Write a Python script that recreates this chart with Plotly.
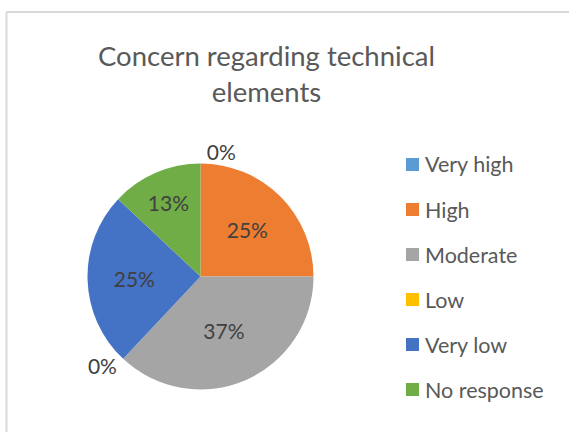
import plotly.graph_objects as go

# Survey responses: concern regarding technical elements (percent of respondents)
categories = ["Very high", "High", "Moderate", "Low", "Very low", "No response"]
shares = [0, 25, 37, 0, 25, 13]
colors = ["#5B9BD5", "#ED7D31", "#A5A5A5", "#FFC000", "#4472C4", "#70AD47"]

W, H = 569, 432
FONT = "Lato, 'Open Sans', sans-serif"

# pie placement in pixels (converted to paper fractions)
cx, cy, r = 200.5, 276.5, 113

text_pos = ["outside" if v == 0 else "inside" for v in shares]

fig = go.Figure(
    go.Pie(
        labels=categories,
        values=shares,
        sort=False,
        direction="clockwise",
        rotation=0,
        marker=dict(colors=colors, line=dict(color="white", width=0)),
        texttemplate="%{value}%",
        textposition=text_pos,
        insidetextorientation="horizontal",
        textfont=dict(family=FONT, size=21, color="#404040"),
        outsidetextfont=dict(family=FONT, size=21, color="#404040"),
        domain=dict(
            x=[(cx - r) / W, (cx + r) / W],
            y=[1 - (cy + r) / H, 1 - (cy - r) / H],
        ),
        showlegend=False,
        hoverinfo="label+percent",
    )
)

shapes = [
    # chart area frame (top and left edges)
    dict(type="line", xref="paper", yref="paper", x0=6.5 / W, x1=1, y0=1 - 12 / H, y1=1 - 12 / H,
         line=dict(color="#D9D9D9", width=2)),
    dict(type="line", xref="paper", yref="paper", x0=6.5 / W, x1=6.5 / W, y0=0, y1=1 - 12 / H,
         line=dict(color="#D9D9D9", width=2)),
]
annotations = [
    dict(text="Concern regarding technical<br>elements", x=266 / W, y=1 - 73 / H,
         xref="paper", yref="paper", showarrow=False, xanchor="center", yanchor="middle",
         font=dict(family=FONT, size=27.5, color="#595959")),
]

# legend drawn as swatches + labels, one row per category
leg_x, leg_y0, leg_dy, sw = 406, 164.5, 45, 13
for i, (name, col) in enumerate(zip(categories, colors)):
    yc = leg_y0 + i * leg_dy
    shapes.append(dict(type="rect", xref="paper", yref="paper",
                       x0=leg_x / W, x1=(leg_x + sw) / W,
                       y0=1 - (yc + sw / 2) / H, y1=1 - (yc - sw / 2) / H,
                       fillcolor=col, line=dict(width=0)))
    annotations.append(dict(text=name, x=(leg_x + sw + 4) / W, y=1 - yc / H,
                            xref="paper", yref="paper", showarrow=False,
                            xanchor="left", yanchor="middle",
                            font=dict(family=FONT, size=21.5, color="#595959")))

fig.update_layout(
    width=W, height=H,
    margin=dict(l=0, r=0, t=0, b=0),
    paper_bgcolor="white",
    plot_bgcolor="white",
    shapes=shapes,
    annotations=annotations,
)

fig.write_html("out.html")
